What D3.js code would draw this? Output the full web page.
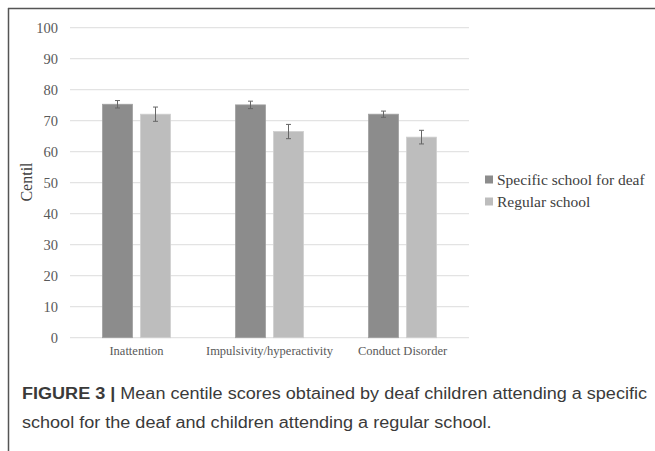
<!DOCTYPE html>
<html><head><meta charset="utf-8">
<script src="https://cdn.jsdelivr.net/npm/d3@7"></script>
<style>body{margin:0;background:#fff}svg{display:block}</style>
</head><body>
<svg id="c" width="655" height="451"></svg>
<script>
const categories = ["Inattention", "Impulsivity/hyperactivity", "Conduct Disorder"];
const seriesNames = ["Specific school for deaf", "Regular school"];
const deafValues = [75.3, 75.1, 72.1];
const deafErrors = [1.2, 1.2, 1.0];
const regularValues = [72.1, 66.5, 64.7];
const regularErrors = [2.3, 2.3, 2.2];
const yTicks = [0, 10, 20, 30, 40, 50, 60, 70, 80, 90, 100];
const colors = ["#8c8c8c", "#bdbdbd"];
const serif = "'Liberation Serif', 'Times New Roman', serif";

const svg = d3.select("#c");
// frame
svg.append("line").attr("x1", 8).attr("x2", 655).attr("y1", 8.5).attr("y2", 8.5).attr("stroke", "#555").attr("stroke-width", 1.5);
svg.append("line").attr("x1", 8.5).attr("x2", 8.5).attr("y1", 8).attr("y2", 451).attr("stroke", "#555").attr("stroke-width", 1.5);

const x = d3.scaleBand().domain(categories).range([70, 469]);
const y = d3.scaleLinear().domain([0, 100]).range([337.7, 27.7]);
const barW = 30, gap = 8;

const g = svg.append("g");
// grid
g.selectAll("line.grid").data(yTicks).join("line")
  .attr("x1", 70).attr("x2", 469)
  .attr("y1", d => y(d)).attr("y2", d => y(d))
  .attr("stroke", "#e3e3e3").attr("stroke-width", 1.2);

const yAxis = d3.axisLeft(y).tickValues(yTicks).tickSize(0).tickPadding(0);
const ya = svg.append("g").attr("transform", "translate(58,0)").call(yAxis);
ya.select(".domain").remove();
ya.attr("font-family", serif).attr("font-size", 14.5);
ya.selectAll("text").style("font-family", serif).style("font-size", "14.5px").attr("fill", "#595959");

const xAxis = d3.axisBottom(x).tickSize(0).tickPadding(0);
const xa = svg.append("g").attr("transform", "translate(0,346)").call(xAxis);
xa.select(".domain").remove();
xa.attr("font-family", serif).attr("font-size", 12.5);
xa.selectAll("text").style("font-family", serif).style("font-size", "12.5px").attr("fill", "#595959");

const series = [
  {vals: deafValues, errs: deafErrors},
  {vals: regularValues, errs: regularErrors}
];
series.forEach((s, si) => {
  const bx = (c) => x(c) + x.bandwidth() / 2 + (si === 0 ? -(gap / 2 + barW) : gap / 2);
  g.selectAll("rect.s" + si).data(categories).join("rect")
    .attr("x", c => bx(c)).attr("width", barW)
    .attr("y", (c, i) => y(s.vals[i])).attr("height", (c, i) => y(0) - y(s.vals[i]))
    .attr("fill", colors[si]).attr("stroke", si === 0 ? "#a0a0a0" : "#cfcfcf").attr("stroke-width", 0.8);
  categories.forEach((c, i) => {
    const cx = bx(c) + barW / 2;
    const t = y(s.vals[i] + s.errs[i]), b = y(s.vals[i] - s.errs[i]);
    const eg = g.append("g").attr("stroke", "#666").attr("stroke-width", 1);
    eg.append("line").attr("x1", cx).attr("x2", cx).attr("y1", t).attr("y2", b);
    eg.append("line").attr("x1", cx - 2.5).attr("x2", cx + 2.5).attr("y1", t).attr("y2", t);
    eg.append("line").attr("x1", cx - 2.5).attr("x2", cx + 2.5).attr("y1", b).attr("y2", b);
  });
});

// y label
svg.append("text").attr("transform", "translate(32,182) rotate(-90)")
  .attr("text-anchor", "middle").attr("font-family", serif)
  .attr("font-size", 16).attr("fill", "#404040").text("Centil");

// legend
seriesNames.forEach((n, i) => {
  const ly = 179.5 + i * 22;
  svg.append("rect").attr("x", 485).attr("y", ly - 4).attr("width", 8).attr("height", 8).attr("fill", colors[i]);
  svg.append("text").attr("x", 497).attr("y", ly + 5).attr("font-family", serif)
    .attr("font-size", 15.5).attr("fill", "#404040").text(n);
});

// caption
const sans = "'Liberation Sans', Arial, sans-serif";
const cap = svg.append("text").attr("font-family", sans).attr("font-size", 16).attr("fill", "#3a3a3a");
const l1 = cap.append("tspan").attr("x", 22).attr("y", 399);
l1.append("tspan").attr("font-weight", "bold").text("FIGURE 3 | ");
l1.append("tspan").text("Mean centile scores obtained by deaf children attending a specific");
const t1 = svg.append("text").attr("x", 22).attr("y", 428).attr("font-family", sans)
  .attr("font-size", 16).attr("fill", "#3a3a3a").text("school for the deaf and children attending a regular school.");
// fit widths
const w1 = cap.node().getComputedTextLength();
cap.attr("textLength", 625).attr("lengthAdjust", "spacingAndGlyphs");
const ratio = 625 / w1;
const w2 = t1.node().getComputedTextLength();
t1.attr("textLength", w2 * ratio).attr("lengthAdjust", "spacingAndGlyphs");
</script>
</body></html>
